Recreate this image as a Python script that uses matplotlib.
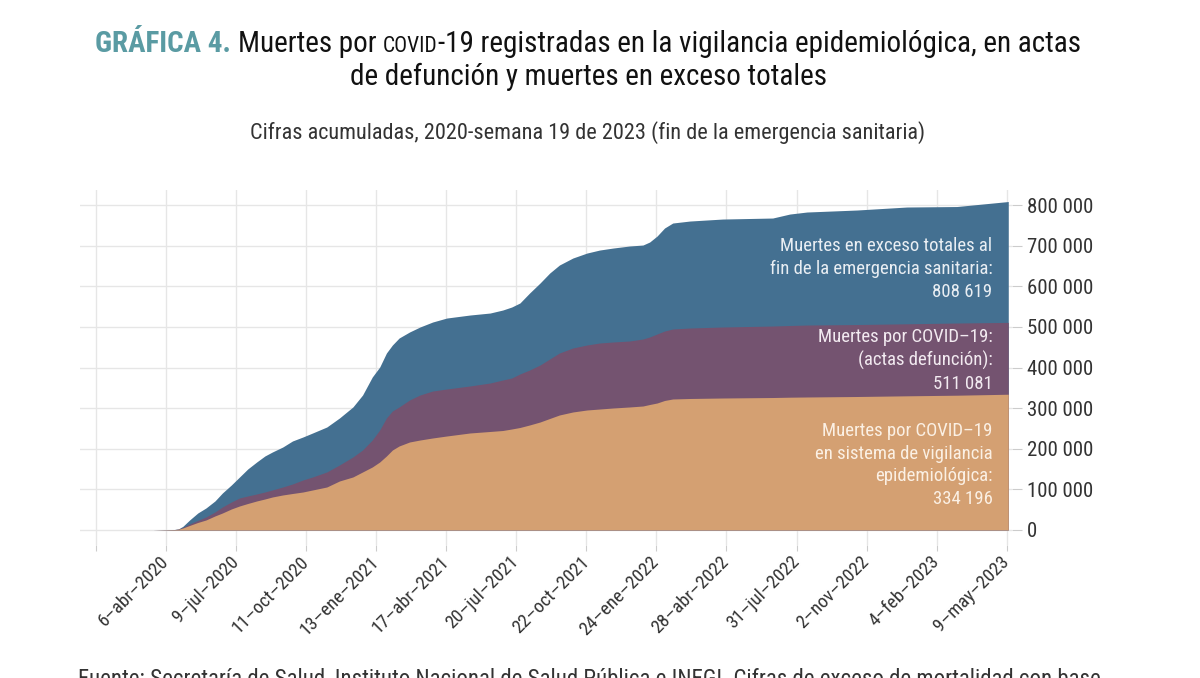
import matplotlib
matplotlib.use("Agg")
import matplotlib.pyplot as plt
from matplotlib import font_manager
import pandas as pd

# ---------------- data ----------------
dates = ['2020-03-20', '2020-04-18', '2020-04-23', '2020-04-29', '2020-05-08', '2020-05-19',
         '2020-05-30', '2020-06-11', '2020-06-21', '2020-07-03', '2020-07-14', '2020-07-25',
         '2020-08-06', '2020-08-17', '2020-08-27', '2020-09-10', '2020-09-23', '2020-10-07',
         '2020-10-20', '2020-11-08', '2020-11-25', '2020-12-13', '2020-12-26',
         '2021-01-08', '2021-01-18', '2021-01-27', '2021-02-04', '2021-02-13', '2021-02-27',
         '2021-03-13', '2021-03-30', '2021-04-18', '2021-05-19', '2021-06-15', '2021-07-02',
         '2021-07-14', '2021-07-25', '2021-08-07', '2021-08-21', '2021-09-03', '2021-09-16',
         '2021-10-04', '2021-10-23', '2021-11-09', '2021-11-27', '2021-12-19',
         '2022-01-06', '2022-01-15', '2022-01-25', '2022-02-04', '2022-02-15', '2022-03-10',
         '2022-04-23', '2022-06-29', '2022-07-22', '2022-08-14', '2022-10-20', '2022-12-26',
         '2023-03-03', '2023-05-11']
exceso = [0, 1200, 2500, 9000, 24600, 41800, 54200, 71400, 91100, 110800, 130500, 150200,
          167400, 182200, 192000, 204300, 219100, 228900, 238800, 253500, 275700, 302800,
          332300,
          376600, 401200, 435700, 455400, 472600, 487400, 499700, 512000, 521800, 529200,
          534100, 541500, 548900, 558800, 583400, 608000, 632600, 652300, 669500, 681800,
          689200, 694100, 699100,
          701500, 708900, 723700, 743400, 755700, 760600, 765500, 768000, 777800, 782800,
          787700, 795100, 796300, 808619]
actas = [0, 1200, 2200, 6200, 14800, 23400, 32000, 44300, 56600, 68900, 78800, 83700,
         88600, 93500, 98500, 105800, 113200, 123100, 130500, 142800, 160000, 179700,
         196900,
         221500, 246200, 275700, 292900, 302800, 320000, 332300, 342100, 347100, 354500,
         361800, 369200, 374100, 384000, 393800, 406100, 420900, 435700, 448000, 455400,
         460300, 462800, 465200,
         470100, 475100, 482500, 489800, 494800, 497200, 499700, 502100, 503400, 504600,
         505800, 507600, 509500, 511081]
vigilancia = [0, 1000, 1800, 4900, 11100, 18500, 24600, 34500, 41800, 51700, 59100, 65200,
              71400, 76300, 81200, 86200, 89800, 93500, 98500, 105800, 120600, 130500,
              142800,
              155100, 167400, 182200, 196900, 206800, 216600, 221500, 226500, 231400, 238800,
              242500, 244900, 248600, 252300, 258500, 265800, 274500, 283100, 290500, 295400,
              297800, 300300, 302800,
              305200, 308900, 312600, 318800, 322500, 323700, 324900, 326100, 326900, 327400,
              328600, 330300, 331800, 334196]

tick_dates = ['2020-01-03', '2020-04-06', '2020-07-09', '2020-10-11', '2021-01-13', '2021-04-17',
              '2021-07-20', '2021-10-22', '2022-01-24', '2022-04-28', '2022-07-31', '2022-11-02',
              '2023-02-04', '2023-05-09']
tick_labels = ['', '6–abr–2020', '9–jul–2020', '11–oct–2020', '13–ene–2021', '17–abr–2021',
               '20–jul–2021', '22–oct–2021', '24–ene–2022', '28–abr–2022', '31–jul–2022',
               '2–nov–2022', '4–feb–2023', '9–may–2023']
y_ticks = [0, 100000, 200000, 300000, 400000, 500000, 600000, 700000, 800000]

label_exceso = "Muertes en exceso totales al\nfin de la emergencia sanitaria:\n808 619"
label_actas = "Muertes por COVID–19:\n(actas defunción):\n511 081"
label_vigil = "Muertes por COVID–19\nen sistema de vigilancia\nepidemiológica:\n334 196"

# ---------------- style ----------------
available = {f.name for f in font_manager.fontManager.ttflist}
narrow = [f for f in ['Roboto Condensed', 'Liberation Sans Narrow', 'Open Sans Condensed']
          if f in available]
FAM = narrow + ['Roboto', 'DejaVu Sans']
plt.rcParams['font.family'] = FAM

C_BLUE = '#447091'
C_PURP = '#745370'
C_ORNG = '#D4A072'
C_GRID = '#E6E6E6'
C_TEXT = '#333333'

W, H = 1200, 678
fig = plt.figure(figsize=(W / 100, H / 100), dpi=100)
fig.patch.set_facecolor('white')

ax_l, ax_r, ax_t, ax_b = 80, 1012, 190, 545
ax = fig.add_axes([ax_l / W, (H - ax_b) / H, (ax_r - ax_l) / W, (ax_b - ax_t) / H])

x = pd.to_datetime(dates)
ax.fill_between(x, 0, exceso, color=C_BLUE, lw=0, zorder=2)
ax.fill_between(x, 0, actas, color=C_PURP, lw=0, zorder=3)
ax.fill_between(x, 0, vigilancia, color=C_ORNG, lw=0, zorder=4)

ax.set_xlim(pd.Timestamp('2019-12-13'), pd.Timestamp('2023-05-16'))
ax.set_ylim(-37000, 837000)

ax.set_xticks(pd.to_datetime(tick_dates))
ax.set_xticklabels(tick_labels, rotation=45, ha='right', va='center', rotation_mode='anchor',
                   fontsize=13.5, color=C_TEXT)
ax.yaxis.tick_right()
ax.set_yticks(y_ticks)
ax.set_yticklabels([f"{v:,}".replace(',', ' ') for v in y_ticks], fontsize=15, color=C_TEXT)
ax.tick_params(axis='y', length=7, color='#CCCCCC', pad=4)
ax.tick_params(axis='x', length=4, color='#CCCCCC', pad=6)
ax.grid(True, color=C_GRID, lw=1, zorder=0)
ax.set_axisbelow(True)
for s in ax.spines.values():
    s.set_visible(False)

# in-area labels
xr = pd.Timestamp('2023-04-20')
ax.text(xr, 642000, label_exceso, ha='right', va='center', multialignment='right',
        color='#E9EEF3', fontsize=13.5, linespacing=1.35, zorder=6)
ax.text(xr, 418000, label_actas, ha='right', va='center', multialignment='right',
        color='#F2EAF0', fontsize=13.5, linespacing=1.35, zorder=6)
ax.text(xr, 160000, label_vigil, ha='right', va='center', multialignment='right',
        color='#FBF0E4', fontsize=13.5, linespacing=1.35, zorder=6)

# ---------------- titles ----------------
def fy(px):
    return (H - px) / H

title_pieces = [
    ("GRÁFICA 4. ", dict(color='#5A9BA3', fontweight='bold', fontsize=21)),
    ("Muertes por ", dict(color='#111111', fontsize=21)),
    ("COVID", dict(color='#111111', fontsize=15.5)),
    ("-19 registradas en la vigilancia epidemiológica, en actas", dict(color='#111111', fontsize=21)),
]
texts = [fig.text(0, fy(52), s, ha='left', va='baseline', **p) for s, p in title_pieces]
fig.text(588 / W, fy(85), "de defunción y muertes en exceso totales", ha='center',
         va='baseline', color='#111111', fontsize=21)
fig.text(588 / W, fy(133), "Cifras acumuladas, 2020-semana 19 de 2023 (fin de la emergencia sanitaria)",
         ha='center', va='center', color=C_TEXT, fontsize=16)
fig.text(78 / W, fy(686), "Fuente: Secretaría de Salud, Instituto Nacional de Salud Pública e INEGI. "
         "Cifras de exceso de mortalidad con base", ha='left', va='baseline', color=C_TEXT,
         fontsize=16.5)

fig.canvas.draw()
r = fig.canvas.get_renderer()
widths = [t.get_window_extent(r).width for t in texts]
total = sum(widths)
x0 = 588 - total / 2
for t, w in zip(texts, widths):
    t.set_x(x0 / W)
    x0 += w

fig.savefig('out.png', dpi=100)
